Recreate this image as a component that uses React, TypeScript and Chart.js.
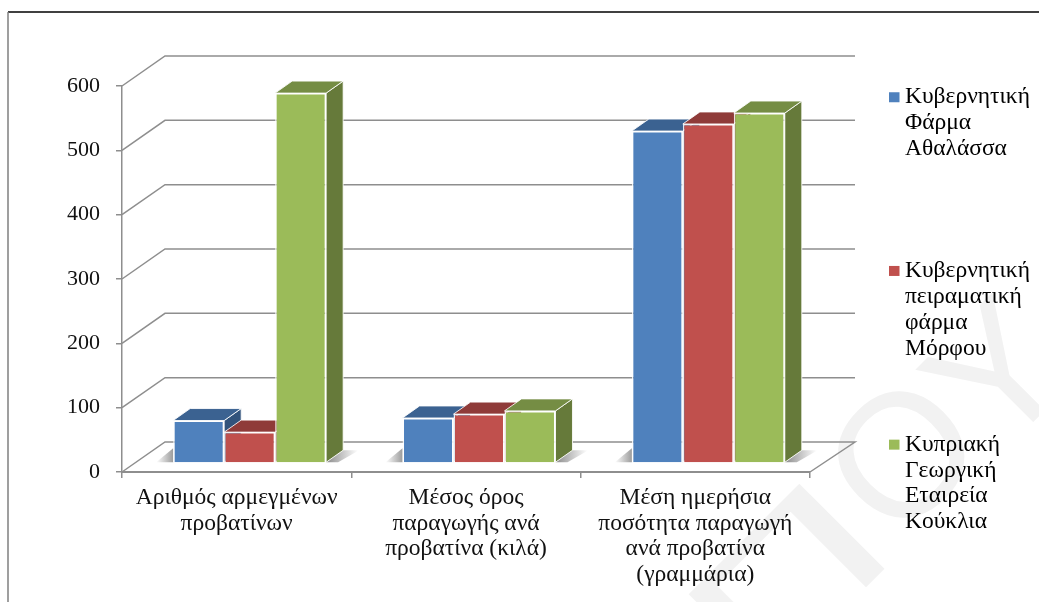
import React, { useEffect, useRef } from "react";
import { Chart, registerables } from "chart.js";

Chart.register(...registerables);

const categories = [
  ["Αριθμός αρμεγμένων", "προβατίνων"],
  ["Μέσος όρος", "παραγωγής ανά", "προβατίνα (κιλά)"],
  ["Μέση ημερήσια", "ποσότητα παραγωγή", "ανά προβατίνα", "(γραμμάρια)"],
];
const seriesNames = [
  ["Κυβερνητική", "Φάρμα", "Αθαλάσσα", ""],
  ["Κυβερνητική", "πειραματική", "φάρμα", "Μόρφου"],
  ["Κυπριακή", "Γεωργική", "Εταιρεία", "Κούκλια"],
];
const athalassa = [66, 70, 516];
const morfou = [48, 76, 527];
const kouklia = [575, 81, 544];
const seriesValues = [athalassa, morfou, kouklia];
const frontColors = ["#4f81bd", "#c0504d", "#9bbb59"];
const topColors = ["#3b6291", "#8f3b39", "#758d44"];
const sideColors = ["#31537c", "#7a3230", "#667a3a"];
const watermark = [
  { t: "Π", x: 795, y: 590, sx: 1.6 },
  { t: "Ο", x: 910, y: 463, sx: 1 },
  { t: "Υ", x: 1005, y: 382, sx: 1 },
];

const SERIF = "'Liberation Serif', serif";
const GRID = "#8e8e8e";
const WALL_DX = 43;
const WALL_DY = -30;
const BAR_DX = 13;
const BAR_DY = -9;
const TOP_DX = 17;
const TOP_DY = -12;
const LEGEND_FONT = 23.5;
const LEGEND_LINE = 25.8;
const LEGEND_PAD = 70.5;
const LEGEND_TOP = 85.5;

const depthPlugin = {
  id: "depth",
  afterLayout(chart: any) {
    const legend = chart.legend;
    const dx = 905 - LEGEND_FONT / 2 - LEGEND_PAD - legend.left;
    const dy = LEGEND_TOP - LEGEND_PAD - legend.top;
    legend.left += dx;
    legend.right += dx;
    legend.top += dy;
    legend.bottom += dy;
  },
  beforeDraw(chart: any) {
    const { ctx, width, height } = chart;
    ctx.save();
    ctx.fillStyle = "#ffffff";
    ctx.fillRect(0, 0, width, height);
    ctx.fillStyle = "#f2f2f2";
    ctx.font = "175px 'Liberation Sans', sans-serif";
    ctx.textAlign = "center";
    ctx.textBaseline = "middle";
    for (const w of watermark) {
      ctx.save();
      ctx.translate(w.x, w.y);
      ctx.rotate(-Math.PI / 4);
      ctx.scale(w.sx, 1);
      ctx.fillText(w.t, 0, 0);
      ctx.restore();
    }
    ctx.strokeStyle = "#000000";
    ctx.lineWidth = 1.5;
    ctx.beginPath();
    ctx.moveTo(8, 12);
    ctx.lineTo(width, 12);
    ctx.stroke();
    ctx.strokeStyle = "#7f7f7f";
    ctx.beginPath();
    ctx.moveTo(8, 12);
    ctx.lineTo(8, height);
    ctx.stroke();
    ctx.restore();
  },
  beforeDatasetsDraw(chart: any) {
    const { ctx, chartArea, scales } = chart;
    const y = scales.y;
    ctx.save();
    ctx.strokeStyle = GRID;
    ctx.lineWidth = 1.5;
    for (const t of y.ticks) {
      const py = y.getPixelForValue(t.value);
      ctx.beginPath();
      ctx.moveTo(chartArea.left, py);
      ctx.lineTo(chartArea.left + WALL_DX, py + WALL_DY);
      ctx.lineTo(chartArea.right + WALL_DX + 2, py + WALL_DY);
      if (t.value === 0) ctx.lineTo(chartArea.right, py);
      ctx.stroke();
    }
    // floor shadows beside every group of bars
    const first = chart.getDatasetMeta(0).data;
    const last = chart.getDatasetMeta(seriesValues.length - 1).data;
    first.forEach((el: any, i: number) => {
      const x0 = el.x - el.width / 2 + BAR_DX;
      const x1 = last[i].x + last[i].width / 2 + BAR_DX;
      const base = el.base + BAR_DY;
      const lg = ctx.createLinearGradient(x0 - 17, 0, x0, 0);
      lg.addColorStop(0, "rgba(90,90,90,0)");
      lg.addColorStop(1, "rgba(90,90,90,0.6)");
      ctx.fillStyle = lg;
      ctx.beginPath();
      ctx.moveTo(x0 - 17, base);
      ctx.lineTo(x0, base - 14);
      ctx.lineTo(x0, base);
      ctx.closePath();
      ctx.fill();
      const rg = ctx.createLinearGradient(x1, 0, x1 + 32, 0);
      rg.addColorStop(0, "rgba(90,90,90,0.7)");
      rg.addColorStop(1, "rgba(90,90,90,0)");
      ctx.fillStyle = rg;
      ctx.beginPath();
      ctx.moveTo(x1, base);
      ctx.lineTo(x1 + 17, base + TOP_DY);
      ctx.lineTo(x1 + 33, base + TOP_DY);
      ctx.lineTo(x1 + 12, base);
      ctx.closePath();
      ctx.fill();
    });
    ctx.restore();

    // paint the series left to right, so each one covers the depth of the last
    seriesValues.forEach((_, i) => {
      const meta = chart.getDatasetMeta(i);
      ctx.save();
      ctx.translate(BAR_DX, BAR_DY);
      ctx.strokeStyle = "rgba(255,255,255,0.85)";
      ctx.lineWidth = 1;
      ctx.lineJoin = "round";
      for (const el of meta.data) {
        const l = el.x - el.width / 2;
        const r = el.x + el.width / 2;
        ctx.fillStyle = sideColors[i];
        ctx.beginPath();
        ctx.moveTo(r, el.y);
        ctx.lineTo(r + TOP_DX, el.y + TOP_DY);
        ctx.lineTo(r + TOP_DX, el.base + TOP_DY);
        ctx.lineTo(r, el.base);
        ctx.closePath();
        ctx.fill();
        ctx.stroke();
        ctx.fillStyle = topColors[i];
        ctx.beginPath();
        ctx.moveTo(l, el.y);
        ctx.lineTo(l + TOP_DX, el.y + TOP_DY);
        ctx.lineTo(r + TOP_DX, el.y + TOP_DY);
        ctx.lineTo(r, el.y);
        ctx.closePath();
        ctx.fill();
        ctx.stroke();
      }
      meta.controller.draw();
      ctx.restore();
    });
    return false;
  },
  afterDraw(chart: any) {
    const { ctx } = chart;
    ctx.save();
    seriesNames.forEach((_, i) => {
      const top = LEGEND_TOP + i * (4 * LEGEND_LINE + LEGEND_PAD);
      ctx.fillStyle = frontColors[i];
      ctx.fillRect(889, top + LEGEND_FONT / 2 - 5, 10.5, 10);
    });
    ctx.restore();
  },
};

export default function App() {
  const ref = useRef<HTMLCanvasElement>(null);
  useEffect(() => {
    const chart = new Chart(ref.current!, {
      type: "bar",
      data: {
        labels: categories as any,
        datasets: seriesValues.map((values, i) => ({
          label: seriesNames[i].join(" "),
          data: values,
          backgroundColor: frontColors[i],
          borderColor: "rgba(255,255,255,0.85)",
          borderWidth: 1.5,
          clip: false as any,
        })),
      },
      options: {
        animation: false,
        responsive: false,
        devicePixelRatio: 1,
        layout: { padding: { top: 86, left: 0, right: 0, bottom: 0 } },
        datasets: { bar: { categoryPercentage: 0.667, barPercentage: 1 } },
        scales: {
          x: {
            grid: { drawOnChartArea: false, color: GRID, tickLength: 6, lineWidth: 1.5, offset: true },
            border: { color: GRID, width: 2 },
            ticks: {
              color: "#111111",
              font: { family: SERIF, size: LEGEND_FONT, lineHeight: 25.6 / LEGEND_FONT },
              maxRotation: 0,
              autoSkip: false,
              padding: 7,
            },
            afterFit(s: any) {
              s.height = 130;
            },
          },
          y: {
            min: 0,
            max: 600,
            grid: { drawOnChartArea: false, color: GRID, tickLength: 6, lineWidth: 1.5 },
            border: { color: GRID, width: 1.5 },
            ticks: {
              stepSize: 100,
              color: "#111111",
              font: { family: SERIF, size: 22 },
              padding: 16,
            },
            afterFit(s: any) {
              s.width = 122;
            },
          },
        },
        plugins: {
          tooltip: { enabled: false },
          legend: {
            position: "right",
            align: "start",
            maxWidth: 229,
            labels: {
              boxWidth: 0,
              boxHeight: 10,
              padding: LEGEND_PAD,
              color: "#111111",
              font: { family: SERIF, size: LEGEND_FONT, lineHeight: LEGEND_LINE / LEGEND_FONT },
              generateLabels: () =>
                seriesNames.map((name, i) => ({
                  text: name,
                  fillStyle: frontColors[i],
                  strokeStyle: frontColors[i],
                  lineWidth: 0,
                  datasetIndex: i,
                })) as any,
            },
          },
        },
      },
      plugins: [depthPlugin],
    } as any);
    return () => chart.destroy();
  }, []);
  return (
    <div style={{ position: "fixed", left: 0, top: 0, width: 1039, height: 602, overflow: "hidden", background: "#fff" }}>
      <canvas ref={ref} width={1039} height={602} style={{ display: "block", width: 1039, height: 602, filter: "blur(0.4px)" }} />
    </div>
  );
}
